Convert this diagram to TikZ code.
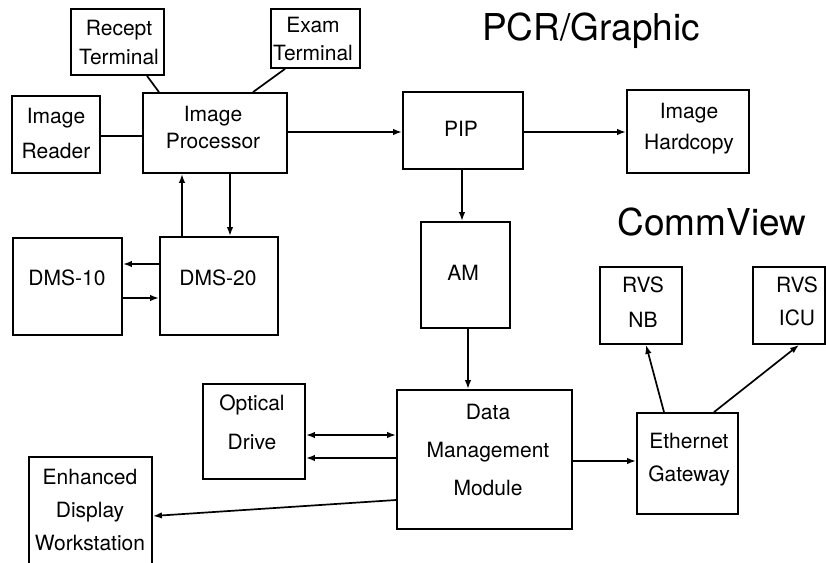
\documentclass[tikz,border=0pt]{standalone}
\usepackage{fontspec}
\setmainfont{TeX Gyre Heros}
\usetikzlibrary{arrows.meta}
\begin{document}
\begin{tikzpicture}[x=1pt,y=-1pt,
  box/.style={draw, line width=1.8pt, inner sep=0pt},
  txt/.style={align=center, inner sep=0pt, font=\fontsize{21}{#1}\selectfont},
  txt/.default=30,
  big/.style={inner sep=0pt, font=\fontsize{37}{40}\selectfont},
  conn/.style={line width=1.7pt},
  arr/.style={conn, -{Latex[length=9pt,width=6.5pt]}},
  darr/.style={conn, {Latex[length=9pt,width=6.5pt]}-{Latex[length=9pt,width=6.5pt]}}]
\useasboundingbox (0,0) rectangle (826,562);
% boxes
\node[box, minimum width=93, minimum height=66] (recept) at (117.5,42) {};
\node[box, minimum width=89, minimum height=59] (exam) at (315.5,38.5) {};
\node[box, minimum width=88, minimum height=77] (reader) at (56,134.5) {};
\node[box, minimum width=144, minimum height=80] (proc) at (215,133) {};
\node[box, minimum width=120, minimum height=77] (pip) at (463,130.5) {};
\node[box, minimum width=122, minimum height=83] (hard) at (688,131.5) {};
\node[box, minimum width=109, minimum height=97] (dms10) at (67.5,286.5) {};
\node[box, minimum width=118, minimum height=98] (dms20) at (219,286) {};
\node[box, minimum width=89, minimum height=106] (am) at (465.5,275) {};
\node[box, minimum width=175, minimum height=139] (dmm) at (484.5,459.5) {};
\node[box, minimum width=101, minimum height=101] (gate) at (687.5,463.5) {};
\node[box, minimum width=82, minimum height=77] (rvsnb) at (641,305.5) {};
\node[box, minimum width=72, minimum height=77] (rvsicu) at (789,305.5) {};
\node[box, minimum width=102, minimum height=95] (optical) at (254,431.5) {};
\node[box, minimum width=123, minimum height=118] (edw) at (90.5,516) {};
% texts
\node[txt=29] (receptT) at (119,42.5) {Recept\\Terminal};
\node[txt=28] (examT) at (313,39) {Exam\\Terminal};
\node[txt=35] (readerT) at (56,133.5) {Image\\Reader};
\node[txt=27] (procT) at (213,127.5) {Image\\Processor};
\node[txt] (pipT) at (461,129) {PIP};
\node[txt=31] (hardT) at (689,128.5) {Image\\Hardcopy};
\node[txt] (dms10T) at (67,278) {DMS-10};
\node[txt] (dms20T) at (218,278) {DMS-20};
\node[txt] (amT) at (463,273) {AM};
\node[txt=35] (rvsnbT) at (643,302.5) {RVS\\NB};
\node[txt=33] (rvsicuT) at (797,301.5) {RVS\\ICU};
\node[txt=38] (dmmT) at (488,450) {Data\\Management\\Module};
\node[txt=33] (gateT) at (689,459.5) {Ethernet\\Gateway};
\node[txt=39] (opticalT) at (252,422.5) {Optical\\Drive};
\node[txt=33] (edwT) at (90,510) {Enhanced\\Display\\Workstation};
\node[big] (pcr) at (591,31) {PCR/Graphic};
\node[big] (comm) at (712,222.5) {CommView};
% connectors
\draw[conn] (recept.south -| 147,0) -- (proc.north -| 159,0);
\draw[conn] (exam.south -| 285,0) -- (proc.north -| 253,0);
\draw[conn] (reader.east |- 0,136) -- (proc.west |- 0,136);
\draw[arr] (proc.east |- 0,132) -- (pip.west |- 0,132);
\draw[arr] (pip.east |- 0,132) -- (hard.west |- 0,132);
\draw[arr] (pip.south -| 462,0) -- (am.north -| 462,0);
\draw[arr] (am.south -| 468,0) -- (dmm.north -| 468,0);
\draw[arr] (dms20.north -| 182,0) -- (proc.south -| 182,0);
\draw[arr] (proc.south -| 230,0) -- (dms20.north -| 230,0);
\draw[arr] (dms20.west |- 0,264) -- (dms10.east |- 0,264);
\draw[arr] (dms10.east |- 0,298) -- (dms20.west |- 0,298);
\draw[darr] (optical.east |- 0,435) -- (dmm.west |- 0,435);
\draw[arr] (dmm.west |- 0,458) -- (optical.east |- 0,458);
\draw[arr] (dmm.west |- 0,500) -- (edw.east |- 0,516);
\draw[arr] (dmm.east |- 0,461) -- (gate.west |- 0,461);
\draw[arr] (gate.north -| 664,0) -- (rvsnb.south -| 646,0);
\draw[arr] (gate.north -| 714,0) -- (rvsicu.south -| 799,0);
\end{tikzpicture}
\end{document}
